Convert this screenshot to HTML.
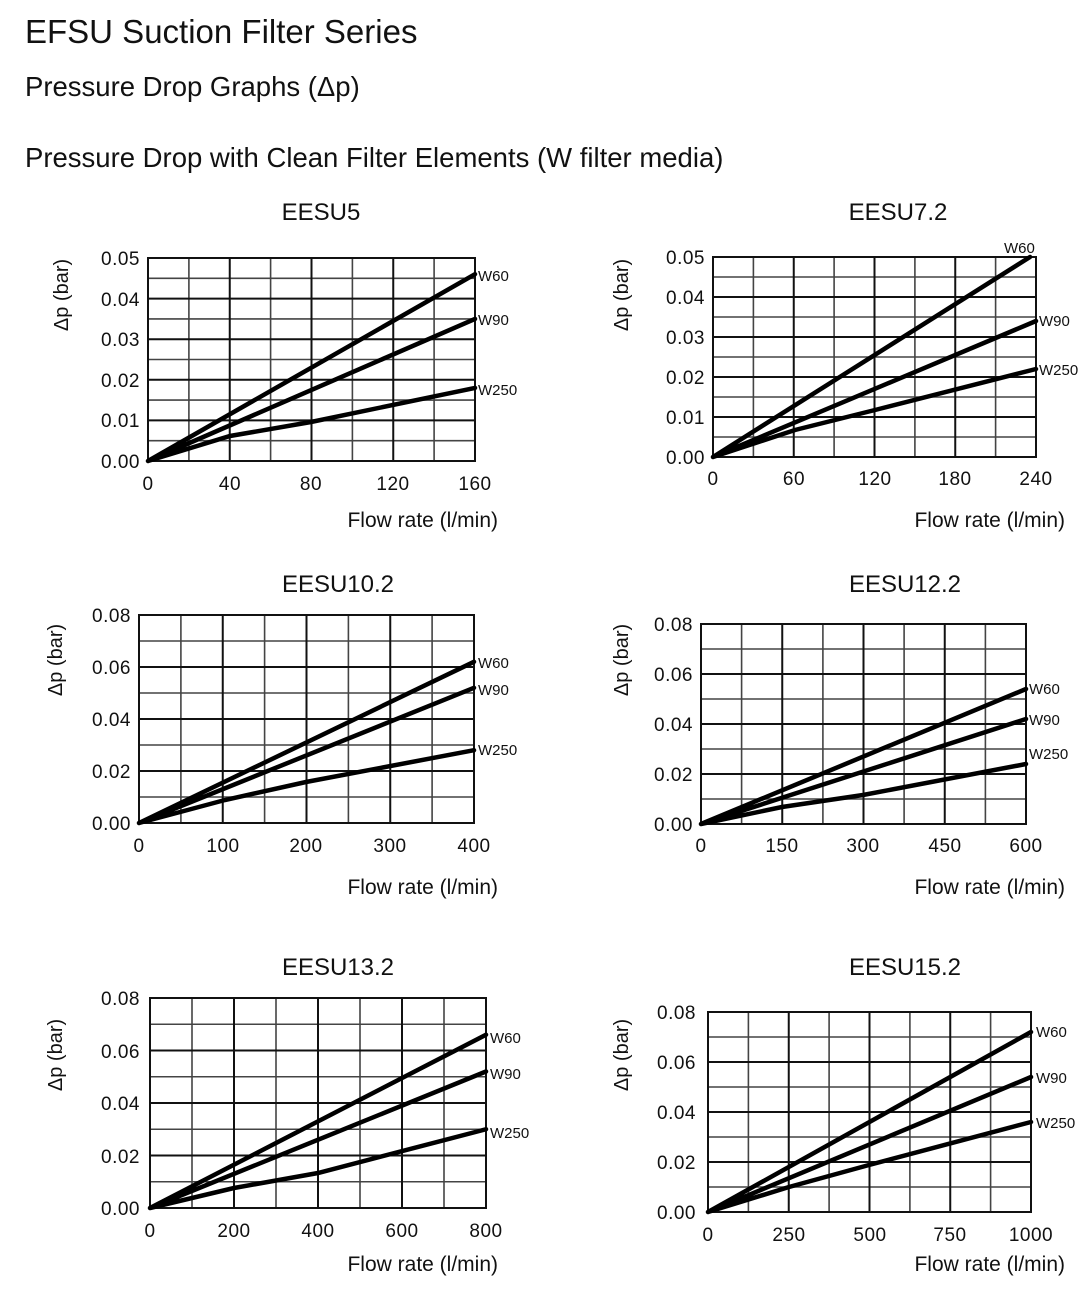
<!DOCTYPE html>
<html><head><meta charset="utf-8"><style>
body{margin:0;background:#fff}
svg{display:block}
text{font-family:"Liberation Sans",sans-serif;fill:#111}
.t{font-size:19px;letter-spacing:0.5px}
.s{font-size:15px}
.g{stroke:#111;stroke-width:2;fill:none}
.gl{stroke:#444;stroke-width:1.6;fill:none}
.l{stroke:#000;stroke-width:4.5;fill:none;stroke-linecap:round}
.ft{font-size:21px}
.yl{font-size:20px}
.ct{font-size:24px}
</style></head><body>
<svg width="1083" height="1289" viewBox="0 0 1083 1289">
<text x="25" y="43" font-size="33">EFSU Suction Filter Series</text>
<text x="25" y="96" font-size="27.5">Pressure Drop Graphs (Δp)</text>
<text x="25" y="167" font-size="27.5">Pressure Drop with Clean Filter Elements (W filter media)</text>

<!-- Chart 1 -->
<text class="ct" x="321" y="220" text-anchor="middle">EESU5</text>
<path class="gl" d="M188.9 258V461M270.6 258V461M352.4 258V461M434.1 258V461M148 440.7H475M148 400.1H475M148 359.5H475M148 318.9H475M148 278.3H475"/>
<path class="g" d="M229.75 258V461M311.5 258V461M393.25 258V461M148 420.4H475M148 379.8H475M148 339.2H475M148 298.6H475M148 258H475V461H148Z"/>
<path class="l" d="M148 461L475 274.2M148 461L475 318.9M148 461L230 436L311 422L475 387.9"/>
<g class="t" text-anchor="end"><text x="140" y="468">0.00</text><text x="140" y="427">0.01</text><text x="140" y="387">0.02</text><text x="140" y="346">0.03</text><text x="140" y="306">0.04</text><text x="140" y="265">0.05</text></g>
<g class="t" text-anchor="middle"><text x="148" y="490">0</text><text x="230" y="490">40</text><text x="311" y="490">80</text><text x="393" y="490">120</text><text x="475" y="490">160</text></g>
<g class="s"><text x="478" y="281">W60</text><text x="478" y="325">W90</text><text x="478" y="395">W250</text></g>
<text class="ft" x="498" y="527" text-anchor="end">Flow rate (l/min)</text>
<text class="yl" transform="translate(68,295) rotate(-90)" text-anchor="middle">Δp (bar)</text>

<!-- Chart 2 -->
<text class="ct" x="898" y="220" text-anchor="middle">EESU7.2</text>
<path class="gl" d="M753.4 257V457M834.1 257V457M914.9 257V457M995.6 257V457M713 437H1036M713 397H1036M713 357H1036M713 317H1036M713 277H1036"/>
<path class="g" d="M793.75 257V457M874.5 257V457M955.25 257V457M713 417H1036M713 377H1036M713 337H1036M713 297H1036M713 257H1036V457H713Z"/>
<path class="l" d="M713 457L1030 257M713 457L1036 321M713 457L795 430L875 410L1036 369"/>
<g class="t" text-anchor="end"><text x="705" y="464">0.00</text><text x="705" y="424">0.01</text><text x="705" y="384">0.02</text><text x="705" y="344">0.03</text><text x="705" y="304">0.04</text><text x="705" y="264">0.05</text></g>
<g class="t" text-anchor="middle"><text x="713" y="485">0</text><text x="794" y="485">60</text><text x="875" y="485">120</text><text x="955" y="485">180</text><text x="1036" y="485">240</text></g>
<g class="s"><text x="1004" y="253">W60</text><text x="1039" y="326">W90</text><text x="1039" y="375">W250</text></g>
<text class="ft" x="1065" y="527" text-anchor="end">Flow rate (l/min)</text>
<text class="yl" transform="translate(628,295) rotate(-90)" text-anchor="middle">Δp (bar)</text>

<!-- Chart 3 -->
<text class="ct" x="338" y="592" text-anchor="middle">EESU10.2</text>
<path class="gl" d="M180.9 615V823M264.6 615V823M348.4 615V823M432.1 615V823M139 797H474M139 745H474M139 693H474M139 641H474"/>
<path class="g" d="M222.75 615V823M306.5 615V823M390.25 615V823M139 771H474M139 719H474M139 667H474M139 615H474V823H139Z"/>
<path class="l" d="M139 823L474 661.8M139 823L474 687.8M139 823L225 800L306 782L474 750.2"/>
<g class="t" text-anchor="end"><text x="131" y="830">0.00</text><text x="131" y="778">0.02</text><text x="131" y="726">0.04</text><text x="131" y="674">0.06</text><text x="131" y="622">0.08</text></g>
<g class="t" text-anchor="middle"><text x="139" y="852">0</text><text x="223" y="852">100</text><text x="306" y="852">200</text><text x="390" y="852">300</text><text x="474" y="852">400</text></g>
<g class="s"><text x="478" y="668">W60</text><text x="478" y="695">W90</text><text x="478" y="755">W250</text></g>
<text class="ft" x="498" y="894" text-anchor="end">Flow rate (l/min)</text>
<text class="yl" transform="translate(62,660) rotate(-90)" text-anchor="middle">Δp (bar)</text>

<!-- Chart 4 -->
<text class="ct" x="905" y="592" text-anchor="middle">EESU12.2</text>
<path class="gl" d="M741.6 624V824M822.9 624V824M904.1 624V824M985.4 624V824M701 799H1026M701 749H1026M701 699H1026M701 649H1026"/>
<path class="g" d="M782.25 624V824M863.5 624V824M944.75 624V824M701 774H1026M701 724H1026M701 674H1026M701 624H1026V824H701Z"/>
<path class="l" d="M701 824L1026 689M701 824L1026 719M701 824L782 807L863 795L1026 764"/>
<g class="t" text-anchor="end"><text x="693" y="831">0.00</text><text x="693" y="781">0.02</text><text x="693" y="731">0.04</text><text x="693" y="681">0.06</text><text x="693" y="631">0.08</text></g>
<g class="t" text-anchor="middle"><text x="701" y="852">0</text><text x="782" y="852">150</text><text x="863" y="852">300</text><text x="945" y="852">450</text><text x="1026" y="852">600</text></g>
<g class="s"><text x="1029" y="694">W60</text><text x="1029" y="725">W90</text><text x="1029" y="759">W250</text></g>
<text class="ft" x="1065" y="894" text-anchor="end">Flow rate (l/min)</text>
<text class="yl" transform="translate(628,660) rotate(-90)" text-anchor="middle">Δp (bar)</text>

<!-- Chart 5 -->
<text class="ct" x="338" y="975" text-anchor="middle">EESU13.2</text>
<path class="gl" d="M192 998V1208M276 998V1208M360 998V1208M444 998V1208M150 1181.75H486M150 1129.25H486M150 1076.75H486M150 1024.25H486"/>
<path class="g" d="M234 998V1208M318 998V1208M402 998V1208M150 1155.5H486M150 1103H486M150 1050.5H486M150 998H486V1208H150Z"/>
<path class="l" d="M150 1208L486 1034.75M150 1208L486 1071.5M150 1208L234 1188L318 1173L486 1129.25"/>
<g class="t" text-anchor="end"><text x="140" y="1215">0.00</text><text x="140" y="1163">0.02</text><text x="140" y="1110">0.04</text><text x="140" y="1058">0.06</text><text x="140" y="1005">0.08</text></g>
<g class="t" text-anchor="middle"><text x="150" y="1237">0</text><text x="234" y="1237">200</text><text x="318" y="1237">400</text><text x="402" y="1237">600</text><text x="486" y="1237">800</text></g>
<g class="s"><text x="490" y="1043">W60</text><text x="490" y="1079">W90</text><text x="490" y="1138">W250</text></g>
<text class="ft" x="498" y="1271" text-anchor="end">Flow rate (l/min)</text>
<text class="yl" transform="translate(62,1055) rotate(-90)" text-anchor="middle">Δp (bar)</text>

<!-- Chart 6 -->
<text class="ct" x="905" y="975" text-anchor="middle">EESU15.2</text>
<path class="gl" d="M748.4 1012V1212M829.1 1012V1212M909.9 1012V1212M990.6 1012V1212M708 1187H1031M708 1137H1031M708 1087H1031M708 1037H1031"/>
<path class="g" d="M788.75 1012V1212M869.5 1012V1212M950.25 1012V1212M708 1162H1031M708 1112H1031M708 1062H1031M708 1012H1031V1212H708Z"/>
<path class="l" d="M708 1212L1031 1032M708 1212L1031 1077M708 1212L789 1187L869 1165L1031 1122"/>
<g class="t" text-anchor="end"><text x="696" y="1219">0.00</text><text x="696" y="1169">0.02</text><text x="696" y="1119">0.04</text><text x="696" y="1069">0.06</text><text x="696" y="1019">0.08</text></g>
<g class="t" text-anchor="middle"><text x="708" y="1241">0</text><text x="789" y="1241">250</text><text x="870" y="1241">500</text><text x="950" y="1241">750</text><text x="1031" y="1241">1000</text></g>
<g class="s"><text x="1036" y="1037">W60</text><text x="1036" y="1083">W90</text><text x="1036" y="1128">W250</text></g>
<text class="ft" x="1065" y="1271" text-anchor="end">Flow rate (l/min)</text>
<text class="yl" transform="translate(628,1055) rotate(-90)" text-anchor="middle">Δp (bar)</text>
</svg>
</body></html>
